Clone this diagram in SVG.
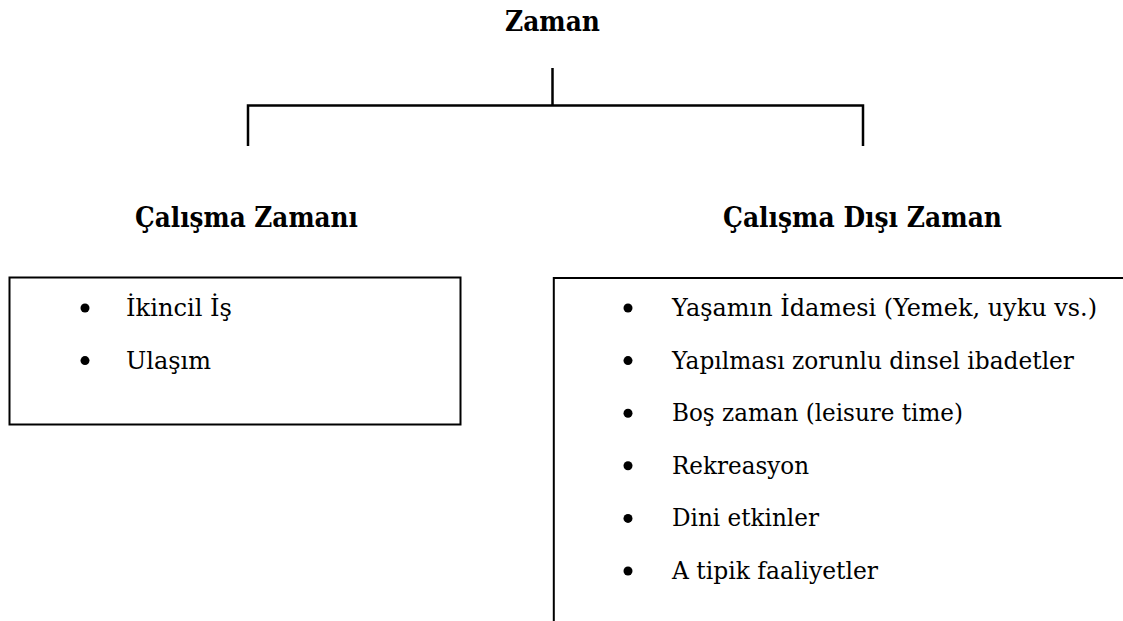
<svg xmlns="http://www.w3.org/2000/svg" width="1123" height="621" viewBox="0 0 1123 621">
<style>
.h{font-family:"DejaVu Serif","Liberation Serif",serif;font-weight:bold;font-size:28.5px;fill:#000;text-anchor:middle}
.t{font-family:"DejaVu Serif","Liberation Serif",serif;font-size:25px;fill:#000}
.box{fill:#fff;stroke:#000;stroke-width:2}
.ln{fill:none;stroke:#000;stroke-width:2.5}
.b{fill:#000}
</style>
<rect width="1123" height="621" fill="#fff"/>
<g id="connectors">
<line class="ln" x1="552.5" y1="68" x2="552.5" y2="105.5"/>
<polyline class="ln" points="248,146 248,105.5 863,105.5 863,146"/>
</g>
<g id="zaman">
<text class="h" x="552.5" y="31" textLength="95" lengthAdjust="spacingAndGlyphs">Zaman</text>
</g>
<g id="calisma-zamani">
<text class="h" x="246.5" y="227" textLength="223" lengthAdjust="spacingAndGlyphs">Çalışma Zamanı</text>
<rect class="box" x="9.5" y="277.5" width="451" height="147"/>
<circle class="b" cx="85" cy="308" r="4.5"/>
<text class="t" x="126" y="316" textLength="106" lengthAdjust="spacingAndGlyphs">İkincil İş</text>
<circle class="b" cx="85" cy="360.6" r="4.5"/>
<text class="t" x="126" y="368.6" textLength="85" lengthAdjust="spacingAndGlyphs">Ulaşım</text>
</g>
<g id="calisma-disi-zaman">
<text class="h" x="862.5" y="227" textLength="279" lengthAdjust="spacingAndGlyphs">Çalışma Dışı Zaman</text>
<path class="box" d="M1125,278 H553.8 V625" fill="none"/>
<circle class="b" cx="628" cy="308" r="4.5"/>
<text class="t" x="672" y="316" textLength="425" lengthAdjust="spacingAndGlyphs">Yaşamın İdamesi (Yemek, uyku vs.)</text>
<circle class="b" cx="628" cy="360.6" r="4.5"/>
<text class="t" x="672" y="368.6" textLength="402" lengthAdjust="spacingAndGlyphs">Yapılması zorunlu dinsel ibadetler</text>
<circle class="b" cx="628" cy="413.2" r="4.5"/>
<text class="t" x="672" y="421.2" textLength="291" lengthAdjust="spacingAndGlyphs">Boş zaman (leisure time)</text>
<circle class="b" cx="628" cy="465.8" r="4.5"/>
<text class="t" x="672" y="473.8" textLength="137" lengthAdjust="spacingAndGlyphs">Rekreasyon</text>
<circle class="b" cx="628" cy="518.4" r="4.5"/>
<text class="t" x="672" y="526.4" textLength="147" lengthAdjust="spacingAndGlyphs">Dini etkinler</text>
<circle class="b" cx="628" cy="571" r="4.5"/>
<text class="t" x="672" y="579" textLength="206" lengthAdjust="spacingAndGlyphs">A tipik faaliyetler</text>
</g>
</svg>
